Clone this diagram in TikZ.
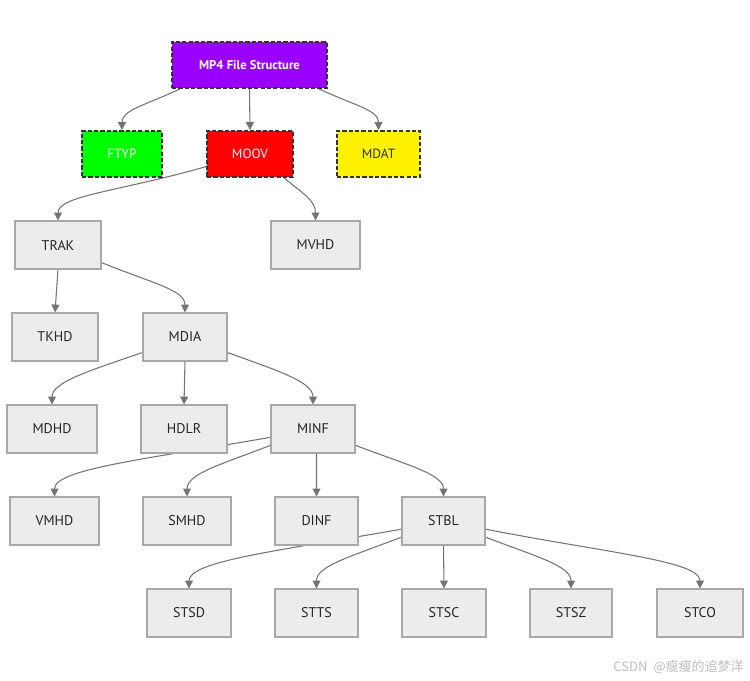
\documentclass[tikz,border=0pt]{standalone}
\usepackage{fontspec}
\setmainfont{PT Sans}
\newfontfamily\cjkfont{Noto Sans CJK SC}
\usetikzlibrary{arrows.meta,backgrounds}
\definecolor{boxfill}{HTML}{ECECEC}
\definecolor{boxline}{HTML}{A8A8A8}
\definecolor{linkgray}{HTML}{737373}
\definecolor{dashline}{HTML}{333333}
\definecolor{mppurple}{HTML}{9900FF}
\definecolor{markgray}{HTML}{BDBDBD}
\newcommand\PxScale{0.02cm}
\tikzset{
  box/.style={
    shape = rectangle,
    draw = boxline,
    fill = boxfill,
    line width = 0.6pt,
    minimum width = 1.72cm,
    minimum height = 0.96cm,
    text = black!85,
    font = \fontsize{8}{10}\selectfont
  },
  atom/.style={
    shape = rectangle,
    draw = dashline,
    line width = 1.1pt,
    dash pattern = on 2.4pt off 1.2pt,
    minimum height = 0.92cm,
    text = white,
    font = \fontsize{7.6}{9}\selectfont
  },
  link/.style={
    draw = linkgray,
    line width = 0.6pt,
    -{Triangle[length=4.5pt,width=4.5pt]}
  },
  short/.style={
    out distance = 1.1cm,
    in distance = 0.45cm
  },
  long/.style={
    out distance = 2.5cm,
    in distance = 0.55cm
  }
}

\begin{document}
\begin{tikzpicture}[x=\PxScale, y=\PxScale]
    \useasboundingbox (0,0) rectangle (750,-680);

    % top level
    \node[atom, fill=mppurple, minimum width=3.1cm, font=\fontsize{7.2}{9}\selectfont\bfseries] (mp4) at (249.5,-65) {MP4 File Structure};
    \node[atom, fill=green, minimum width=1.6cm] (ftyp) at (122,-154) {FTYP};
    \node[atom, fill=red, minimum width=1.72cm] (moov) at (250,-154) {MOOV};
    \node[atom, fill=yellow, minimum width=1.66cm, text=dashline] (mdat) at (378.5,-154) {MDAT};

    % moov
    \node[box] (trak) at (58,-245) {TRAK};
    \node[box, minimum width=1.78cm] (mvhd) at (315.5,-245) {MVHD};

    % trak
    \node[box] (tkhd) at (55,-337) {TKHD};
    \node[box, minimum width=1.68cm] (mdia) at (185,-337) {MDIA};

    % mdia
    \node[box, minimum width=1.8cm] (mdhd) at (52,-429) {MDHD};
    \node[box] (hdlr) at (184,-429) {HDLR};
    \node[box, minimum width=1.68cm] (minf) at (313,-429) {MINF};

    % minf
    \node[box, minimum width=1.78cm] (vmhd) at (54.5,-521) {VMHD};
    \node[box, minimum width=1.76cm] (smhd) at (187,-521) {SMHD};
    \node[box, minimum width=1.66cm] (dinf) at (316.5,-521) {DINF};
    \node[box, minimum width=1.66cm] (stbl) at (443.5,-521) {STBL};

    % stbl
    \node[box, minimum width=1.68cm] (stsd) at (189,-613) {STSD};
    \node[box, minimum width=1.66cm] (stts) at (316.5,-613) {STTS};
    \node[box, minimum width=1.68cm] (stsc) at (444,-613) {STSC};
    \node[box, minimum width=1.64cm] (stsz) at (571,-613) {STSZ};
    \node[box] (stco) at (700,-613) {STCO};

    \node[font=\cjkfont\fontsize{7.4}{9}\selectfont, text=markgray, anchor=east, inner sep=0pt] (mark) at (744,-667) {CSDN\ \ @瘦瘦的追梦洋};

    \begin{pgfonlayer}{background}
    \draw[link] (mp4.199) to[out=205, in=90, out distance=0.8cm, in distance=0.4cm] (ftyp.north);
    \draw[link] (mp4.south) -- (moov.north);
    \draw[link] (mp4.341) to[out=335, in=90, out distance=0.8cm, in distance=0.4cm] (mdat.north);

    \draw[link] (moov.196) to[out=196, in=90, out distance=1.8cm, in distance=0.5cm] (trak.north);
    \draw[link] (moov.325) to[out=320, in=90, out distance=0.5cm, in distance=0.4cm] (mvhd.north);

    \draw[link] (trak.south) -- (tkhd.north);
    \draw[link] (trak.338) to[out=338, in=90, short] (mdia.north);

    \draw[link] (mdia.200) to[out=199, in=90, short] (mdhd.north);
    \draw[link] (mdia.south) -- (hdlr.north);
    \draw[link] (mdia.340) to[out=340, in=90, short] (minf.north);

    \draw[link] (minf.191) to[out=190, in=90, long] (vmhd.north);
    \draw[link] (minf.201) to[out=201, in=90, short] (smhd.north);
    \draw[link] ([xshift=2pt]minf.south) -- (dinf.north);
    \draw[link] (minf.339) to[out=339, in=90, short] (stbl.north);

    \draw[link] (stbl.191) to[out=190, in=90, long] (stsd.north);
    \draw[link] (stbl.201) to[out=201, in=90, short] (stts.north);
    \draw[link] (stbl.south) -- (stsc.north);
    \draw[link] (stbl.339) to[out=339, in=90, short] (stsz.north);
    \draw[link] (stbl.349) to[out=349, in=90, long] (stco.north);
    \end{pgfonlayer}
\end{tikzpicture}
\end{document}
